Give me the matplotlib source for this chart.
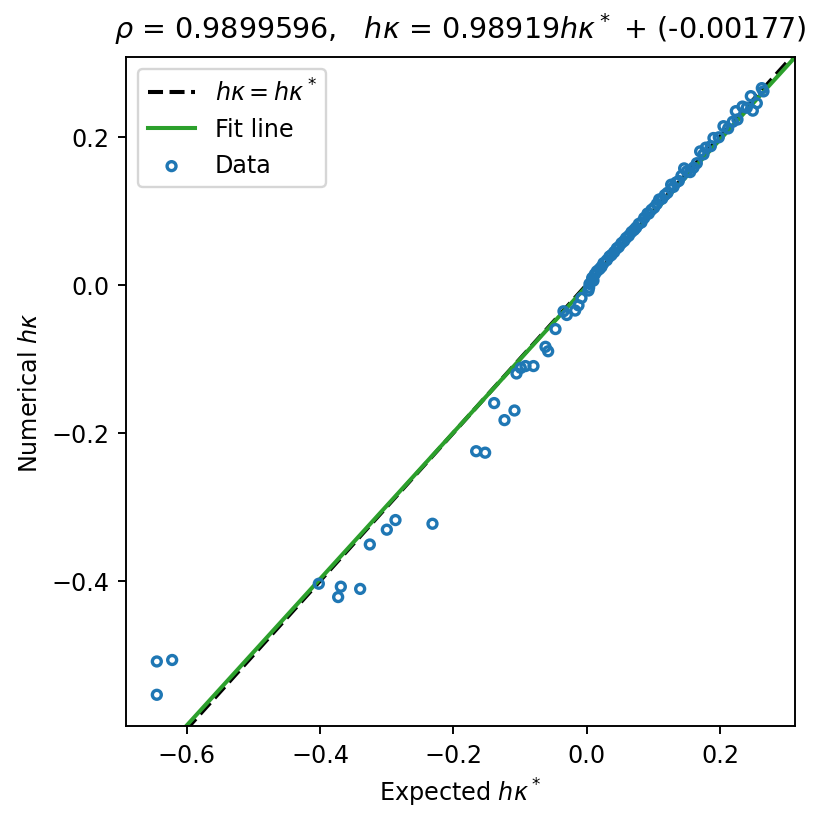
import matplotlib
matplotlib.use('Agg')
import matplotlib.pyplot as plt
import numpy as np

# expected vs numerical h*kappa
expected = [-0.645, -0.622, -0.645, -0.402, -0.369, -0.373, -0.340, -0.3255,
            -0.300, -0.287, -0.2315, -0.166, -0.1525, -0.139, -0.1235, -0.1085,
            -0.1055, -0.099, -0.092, -0.080, -0.062, -0.058, -0.047,
            -0.035, -0.030, -0.0175, -0.0125, -0.008, 0.0025, 0.0035, 0.010,
            0.004, 0.008, 0.012, 0.015, 0.019, 0.022, 0.025, 0.030, 0.034, 0.037,
            0.041, 0.045, 0.048, 0.052, 0.056, 0.059, 0.063, 0.067, 0.071, 0.074,
            0.078, 0.082, 0.086, 0.091, 0.093, 0.097, 0.101, 0.105, 0.1085, 0.113,
            0.117, 0.121, 0.1265, 0.130, 0.134, 0.138, 0.142, 0.146, 0.150, 0.155,
            0.160, 0.165, 0.170, 0.1785, 0.175, 0.190, 0.186, 0.205, 0.198, 0.212,
            0.2235, 0.219, 0.2335, 0.226, 0.246, 0.249, 0.255, 0.240, 0.2625, 0.265]
numerical = [-0.509, -0.507, -0.554, -0.404, -0.408, -0.422, -0.411, -0.351,
             -0.331, -0.318, -0.323, -0.225, -0.227, -0.160, -0.183, -0.170,
             -0.120, -0.1125, -0.110, -0.110, -0.084, -0.090, -0.060,
             -0.036, -0.041, -0.035, -0.028, -0.018, -0.008, -0.004, 0.0054,
             0.001, 0.009, 0.014, 0.018, 0.021, 0.024, 0.029, 0.033, 0.038, 0.040,
             0.044, 0.049, 0.051, 0.056, 0.059, 0.063, 0.066, 0.071, 0.074, 0.077,
             0.082, 0.084, 0.090, 0.096, 0.096, 0.101, 0.104, 0.109, 0.115, 0.116,
             0.121, 0.124, 0.135, 0.132, 0.138, 0.140, 0.147, 0.157, 0.153, 0.152,
             0.158, 0.164, 0.180, 0.185, 0.176, 0.198, 0.187, 0.214, 0.199, 0.211,
             0.2343, 0.220, 0.2405, 0.223, 0.2546, 0.235, 0.245, 0.239, 0.2654, 0.261]

slope = 0.98919
intercept = -0.00177
rho = 0.9899596

DPI = 172
fig = plt.figure(figsize=(830 / DPI, 826 / DPI), dpi=DPI)
ax = fig.add_axes([0.152, 0.120, 0.806, 0.810])

xs = np.array([-0.75, 0.35])
ax.plot(xs, xs, 'k--', lw=1.7, label=r'$h\kappa = h\kappa^*$')
ax.plot(xs, slope * xs + intercept, color='C2', lw=1.7, label='Fit line')
ax.scatter(expected, numerical, s=14, facecolors='none', edgecolors='C0',
           linewidths=1.4, label='Data', zorder=3)

ax.set_xlim(-0.691, 0.3125)
ax.set_ylim(-0.596, 0.3077)
ax.set_xticks([-0.6, -0.4, -0.2, 0.0, 0.2])
ax.set_yticks([-0.4, -0.2, 0.0, 0.2])
ax.set_xlabel(r'Expected $h\kappa^*$')
ax.set_ylabel(r'Numerical $h\kappa$')
ax.set_title(r'$\rho$ = %.7f,   $h\kappa$ = %.5f$h\kappa^*$ + (%.5f)' % (rho, slope, intercept),
             fontsize=12, pad=8)
ax.legend(loc='upper left')

fig.savefig('out.png', dpi=DPI)
